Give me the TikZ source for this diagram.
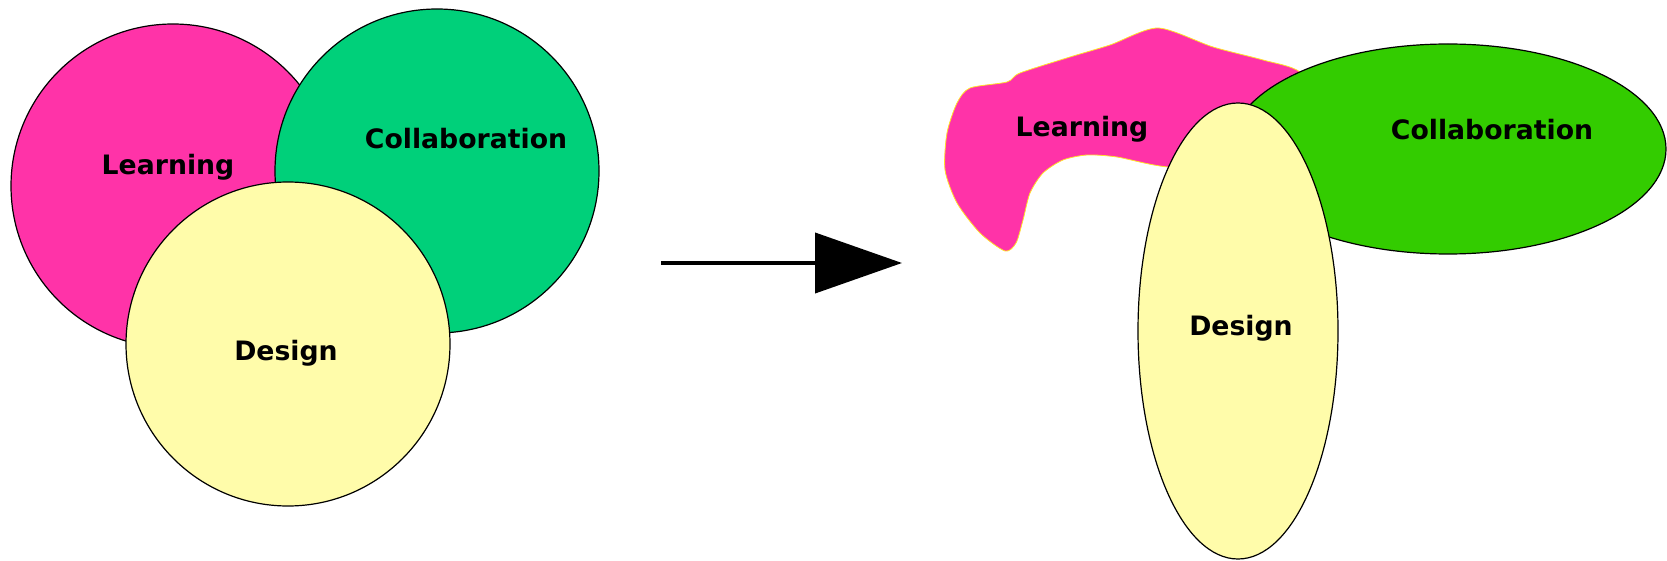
\documentclass[tikz,border=0pt]{standalone}
\usepackage{fontspec}
\newfontfamily\venfont{DejaVu Sans}
\usetikzlibrary{arrows.meta}
\usetikzlibrary{shapes.geometric}

\definecolor{learnpink}{RGB}{255,51,168}
\definecolor{collabgreen}{RGB}{0,208,122}
\definecolor{collablime}{RGB}{51,204,0}
\definecolor{designyellow}{RGB}{255,252,170}
\definecolor{fringe}{RGB}{255,225,40}

\begin{document}
\begin{tikzpicture}[x=1pt,y=-1pt,
	blob/.style={draw=black, line width=1.2pt, inner sep=0pt, outer sep=0pt},
	word/.style={anchor=base, inner sep=0pt, font=\venfont\bfseries\fontsize{26.7}{32}\selectfont}]
	\useasboundingbox (0,0) rectangle (1667,561);
	% three circles
	\node[blob, circle, minimum size=324pt, fill=learnpink] (learn) at (173,186) {};
	\node[blob, circle, minimum size=324pt, fill=collabgreen] (collab) at (437,171) {};
	\node[blob, circle, minimum size=324pt, fill=designyellow] (design) at (288,344) {};
	\node[word] (learntext) at (168,175) {Learning};
	\node[word] (collabtext) at (466,149) {Collaboration};
	\node[word] (designtext) at (286,360) {Design};
	% arrow
	\coordinate (before) at (661,263);
	\coordinate (after) at (902,263);
	\draw[line width=4pt, -{Triangle[length=87pt,width=60pt]}] (before) -- (after);
	% reshaped
	\filldraw[fill=learnpink, draw=fringe, line width=0.8pt] plot[smooth cycle, tension=0.45] coordinates {
		(1158,28) (1213,47) (1263,60) (1300,72) (1330,110) (1260,170) (1168,167)
		(1117,157) (1087,155) (1063,160) (1043,173) (1030,193) (1023,220) (1016,243)
		(1005,251) (980,233) (957,203) (945,170) (947,133) (957,103) (970,88)
		(1007,82) (1020,73) (1070,57) (1110,45)};
	\node[blob, ellipse, minimum width=436pt, minimum height=210pt, fill=collablime] (collab2) at (1448,149) {};
	\node[blob, ellipse, minimum width=200pt, minimum height=456pt, fill=designyellow] (design2) at (1238,331) {};
	\node[word] (learntext2) at (1082,137) {Learning};
	\node[word] (collabtext2) at (1492,140) {Collaboration};
	\node[word] (designtext2) at (1241,335) {Design};
\end{tikzpicture}
\end{document}
